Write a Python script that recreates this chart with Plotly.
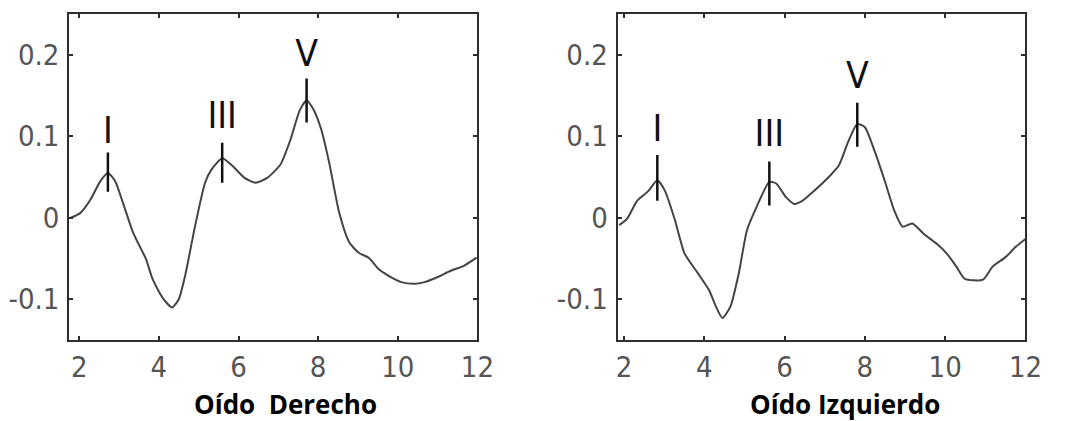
import plotly.graph_objects as go

# ---- Data: Oído Derecho ----
right_ear_x = [1.79, 2.03, 2.28, 2.53, 2.72, 2.90, 3.10, 3.35, 3.60, 3.68, 3.84, 4.09, 4.33,
               4.50, 4.66, 4.91, 5.16, 5.32, 5.59, 5.82, 6.15, 6.43, 6.72, 7.05, 7.30, 7.54,
               7.71, 7.87, 8.08, 8.28, 8.53, 8.78, 9.02, 9.27, 9.52, 9.76, 10.09, 10.42,
               10.67, 10.99, 11.33, 11.66, 11.98]
right_ear_y = [0.000, 0.006, 0.022, 0.045, 0.055, 0.045, 0.018, -0.018, -0.043, -0.051,
               -0.075, -0.098, -0.110, -0.100, -0.071, -0.010, 0.043, 0.059, 0.073, 0.065,
               0.049, 0.043, 0.049, 0.065, 0.095, 0.132, 0.144, 0.134, 0.108, 0.067, 0.006,
               -0.030, -0.043, -0.049, -0.063, -0.071, -0.079, -0.081, -0.079, -0.073,
               -0.065, -0.059, -0.049]

# ---- Data: Oído Izquierdo ----
left_ear_x = [1.88, 2.08, 2.33, 2.61, 2.83, 3.02, 3.27, 3.51, 3.84, 4.12, 4.29, 4.45, 4.65,
              4.86, 5.06, 5.30, 5.62, 5.79, 6.04, 6.24, 6.45, 6.69, 7.10, 7.35, 7.59, 7.81,
              8.00, 8.24, 8.49, 8.73, 8.94, 9.18, 9.47, 9.79, 10.04, 10.28, 10.49, 10.94,
              11.18, 11.51, 11.75, 12.00]
left_ear_y = [-0.009, -0.001, 0.021, 0.033, 0.046, 0.033, -0.003, -0.044, -0.068, -0.089,
              -0.109, -0.123, -0.109, -0.068, -0.016, 0.013, 0.044, 0.042, 0.025, 0.017,
              0.021, 0.031, 0.050, 0.064, 0.094, 0.115, 0.111, 0.082, 0.046, 0.009, -0.011,
              -0.007, -0.020, -0.032, -0.044, -0.060, -0.075, -0.076, -0.060, -0.048,
              -0.036, -0.026]

# ---- Wave markers ----
wave_labels = ["I", "III", "V"]
right_ear_peak_x = [2.72, 5.59, 7.71]
right_ear_mark_top = [0.080, 0.092, 0.171]
right_ear_mark_bot = [0.032, 0.043, 0.117]
right_ear_label_y = [0.103, 0.121, 0.197]

left_ear_peak_x = [2.83, 5.62, 7.81]
left_ear_mark_top = [0.077, 0.069, 0.141]
left_ear_mark_bot = [0.021, 0.015, 0.087]
left_ear_label_y = [0.105, 0.100, 0.170]

x_ticks = [2, 4, 6, 8, 10, 12]
y_ticks = [-0.1, 0, 0.1, 0.2]
y_tick_text = ["-0.1", "0", "0.1", "0.2"]
titles = ["Oído  Derecho", "Oído Izquierdo"]

CURVE = "#444444"
FRAME = "#2e2e2e"
TICKFONT = dict(family="Liberation Sans Narrow, DejaVu Sans Condensed, Liberation Sans", size=29, color="#555555")
LABELFONT = dict(family="Liberation Sans Narrow, DejaVu Sans Condensed, Liberation Sans", size=37, color="#111111")

fig = go.Figure()

def add_panel(xs, ys, px, mt, mb, ly, xa, ya):
    fig.add_trace(go.Scatter(x=xs, y=ys, mode="lines", line=dict(color=CURVE, width=2, shape="spline", smoothing=0.6),
                             xaxis=xa, yaxis=ya, showlegend=False, hoverinfo="skip"))
    seg_x, seg_y = [], []
    for x0, t, b in zip(px, mt, mb):
        seg_x += [x0, x0, None]
        seg_y += [b, t, None]
    fig.add_trace(go.Scatter(x=seg_x, y=seg_y, mode="lines", line=dict(color="#111111", width=2.5),
                             xaxis=xa, yaxis=ya, showlegend=False, hoverinfo="skip"))
    fig.add_trace(go.Scatter(x=px, y=ly, mode="text", text=wave_labels, textfont=LABELFONT,
                             textposition="middle center", xaxis=xa, yaxis=ya, showlegend=False, hoverinfo="skip"))

add_panel(right_ear_x, right_ear_y, right_ear_peak_x, right_ear_mark_top, right_ear_mark_bot, right_ear_label_y, "x", "y")
add_panel(left_ear_x, left_ear_y, left_ear_peak_x, left_ear_mark_top, left_ear_mark_bot, left_ear_label_y, "x2", "y2")

axis_common = dict(showline=True, linecolor=FRAME, linewidth=2, mirror="ticks", ticks="inside", ticklen=4,
                   tickwidth=2, tickcolor=FRAME, showgrid=False, zeroline=False, tickfont=TICKFONT)

ydom = [81 / 421, 407 / 421]
fig.update_layout(
    width=1070, height=421, margin=dict(l=0, r=0, t=0, b=0),
    paper_bgcolor="white", plot_bgcolor="white",
    xaxis=dict(domain=[68.5 / 1070, 484 / 1070], range=[1.75, 12], tickvals=x_ticks, anchor="y",
               ticklabelstandoff=0, **axis_common),
    yaxis=dict(domain=ydom, range=[-0.15, 0.25], tickvals=y_ticks, ticktext=y_tick_text, anchor="x",
               ticklabelstandoff=2, **axis_common),
    xaxis2=dict(domain=[626.7 / 1070, 1042 / 1070], range=[1.84, 12], tickvals=x_ticks, anchor="y2",
                ticklabelstandoff=0, **axis_common),
    yaxis2=dict(domain=ydom, range=[-0.15, 0.25], tickvals=y_ticks, ticktext=y_tick_text, anchor="x2",
                ticklabelstandoff=2, **axis_common),
)

for cx, t in zip([289 / 1070, 858 / 1070], titles):
    fig.add_annotation(x=cx, y=1 - 404 / 421, xref="paper", yref="paper", text="<b>" + t + "</b>",
                       showarrow=False, xanchor="center", yanchor="middle",
                       font=dict(family="Open Sans", size=26, color="#000000"))

fig.write_html("out.html")
